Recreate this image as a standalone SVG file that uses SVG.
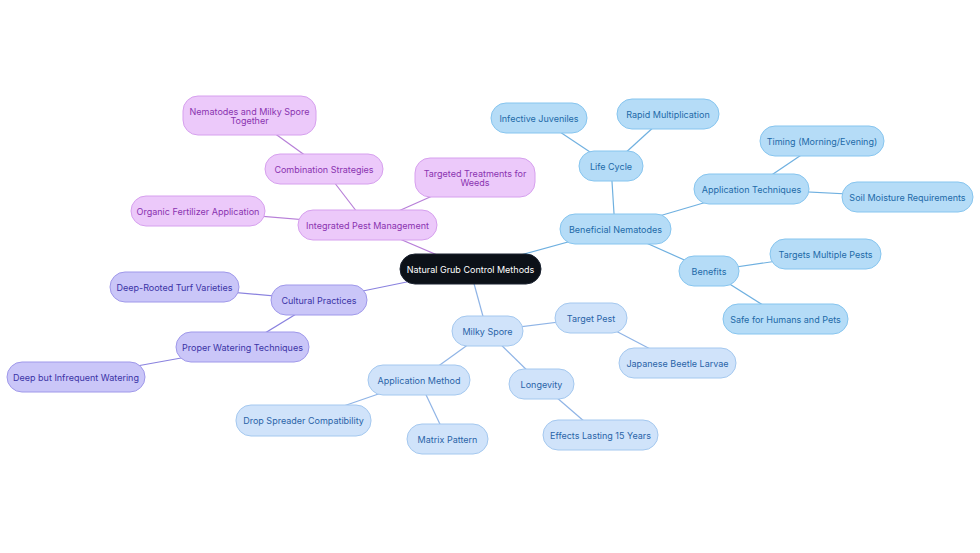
<svg xmlns="http://www.w3.org/2000/svg" width="980" height="553" viewBox="0 0 980 553">
<style>
text{font-family:Inter,"Liberation Sans",sans-serif;font-size:9px;text-anchor:middle;dominant-baseline:central}
.b rect{fill:#b5dcf7;stroke:#86c5ef;stroke-width:1}.b text{fill:#1d6aa8}
.m rect{fill:#d0e3fa;stroke:#a4c8ef;stroke-width:1}.m text{fill:#2a63a8}
.p rect{fill:#ecc9fa;stroke:#d6a0ee;stroke-width:1}.p text{fill:#8a33b0}
.l rect{fill:#cac6f8;stroke:#9f98ea;stroke-width:1}.l text{fill:#3a33a6}
#connectors line{stroke-width:1.2}
.cb{stroke:#6fb0e0}.cm{stroke:#8fb4e6}.cp{stroke:#b77fd8}.cl{stroke:#8a82df}
</style>
<rect width="980" height="553" fill="#fff"/>
<g id="connectors">
<line class="cb" x1="470" y1="269" x2="615" y2="229"/>
<line class="cb" x1="615" y1="229" x2="611" y2="166"/>
<line class="cb" x1="611" y1="166" x2="539" y2="118"/>
<line class="cb" x1="611" y1="166" x2="668" y2="114"/>
<line class="cb" x1="615" y1="229" x2="751" y2="189"/>
<line class="cb" x1="751" y1="189" x2="822" y2="141"/>
<line class="cb" x1="751" y1="189" x2="907" y2="197"/>
<line class="cb" x1="615" y1="229" x2="709" y2="271"/>
<line class="cb" x1="709" y1="271" x2="825" y2="254"/>
<line class="cb" x1="709" y1="271" x2="785" y2="319"/>
<line class="cm" x1="470" y1="269" x2="487" y2="331"/>
<line class="cm" x1="487" y1="331" x2="591" y2="318"/>
<line class="cm" x1="591" y1="318" x2="677" y2="363"/>
<line class="cm" x1="487" y1="331" x2="541" y2="384"/>
<line class="cm" x1="541" y1="384" x2="600" y2="435"/>
<line class="cm" x1="487" y1="331" x2="419" y2="380"/>
<line class="cm" x1="419" y1="380" x2="303" y2="420"/>
<line class="cm" x1="419" y1="380" x2="447" y2="439"/>
<line class="cp" x1="470" y1="269" x2="367" y2="225"/>
<line class="cp" x1="367" y1="225" x2="324" y2="169"/>
<line class="cp" x1="324" y1="169" x2="249" y2="115"/>
<line class="cp" x1="367" y1="225" x2="475" y2="177"/>
<line class="cp" x1="367" y1="225" x2="198" y2="211"/>
<line class="cl" x1="470" y1="269" x2="319" y2="300"/>
<line class="cl" x1="319" y1="300" x2="174" y2="287"/>
<line class="cl" x1="319" y1="300" x2="242" y2="347"/>
<line class="cl" x1="242" y1="347" x2="76" y2="377"/>
</g>
<g id="root"><rect x="400" y="254" width="141" height="30" rx="15" fill="#0c1118" stroke="#1a2230"/><text x="470.5" y="269" fill="#fff">Natural Grub Control Methods</text></g>
<g id="n-nematodes" class="b"><rect x="560" y="214" width="111" height="30" rx="15"/><text x="615.5" y="229">Beneficial Nematodes</text></g>
<g id="n-lifecycle" class="b"><rect x="579" y="151" width="64" height="30" rx="15"/><text x="611" y="166">Life Cycle</text></g>
<g id="n-juveniles" class="b"><rect x="491" y="103" width="96" height="30" rx="15"/><text x="539" y="118">Infective Juveniles</text></g>
<g id="n-rapid" class="b"><rect x="617" y="99" width="102" height="30" rx="15"/><text x="668" y="114">Rapid Multiplication</text></g>
<g id="n-apptech" class="b"><rect x="694" y="174" width="115" height="30" rx="15"/><text x="751.5" y="189">Application Techniques</text></g>
<g id="n-timing" class="b"><rect x="760" y="126" width="124" height="30" rx="15"/><text x="822" y="141">Timing (Morning/Evening)</text></g>
<g id="n-soil" class="b"><rect x="842" y="182" width="131" height="30" rx="15"/><text x="907.5" y="197">Soil Moisture Requirements</text></g>
<g id="n-benefits" class="b"><rect x="679" y="256" width="60" height="30" rx="15"/><text x="709" y="271">Benefits</text></g>
<g id="n-targets" class="b"><rect x="770" y="239" width="111" height="30" rx="15"/><text x="825.5" y="254">Targets Multiple Pests</text></g>
<g id="n-safe" class="b"><rect x="723" y="304" width="125" height="30" rx="15"/><text x="785.5" y="319">Safe for Humans and Pets</text></g>
<g id="n-milky" class="m"><rect x="452" y="316" width="71" height="30" rx="15"/><text x="487.5" y="331">Milky Spore</text></g>
<g id="n-targetpest" class="m"><rect x="555" y="303" width="72" height="30" rx="15"/><text x="591" y="318">Target Pest</text></g>
<g id="n-beetle" class="m"><rect x="619" y="348" width="117" height="30" rx="15"/><text x="677.5" y="363">Japanese Beetle Larvae</text></g>
<g id="n-longevity" class="m"><rect x="509" y="369" width="65" height="30" rx="15"/><text x="541.5" y="384">Longevity</text></g>
<g id="n-effects" class="m"><rect x="543" y="420" width="115" height="30" rx="15"/><text x="600.5" y="435">Effects Lasting 15 Years</text></g>
<g id="n-appmethod" class="m"><rect x="368" y="365" width="102" height="30" rx="15"/><text x="419" y="380">Application Method</text></g>
<g id="n-drop" class="m"><rect x="236" y="405" width="135" height="31" rx="15"/><text x="303.5" y="420.5">Drop Spreader Compatibility</text></g>
<g id="n-matrix" class="m"><rect x="407" y="424" width="81" height="30" rx="15"/><text x="447.5" y="439">Matrix Pattern</text></g>
<g id="n-ipm" class="p"><rect x="298" y="210" width="139" height="30" rx="15"/><text x="367.5" y="225">Integrated Pest Management</text></g>
<g id="n-combo" class="p"><rect x="265" y="154" width="118" height="30" rx="15"/><text x="324" y="169">Combination Strategies</text></g>
<g id="n-together" class="p"><rect x="183" y="96" width="133" height="39" rx="15"/><text x="249.5" y="111">Nematodes and Milky Spore</text><text x="249.5" y="120.5">Together</text></g>
<g id="n-weeds" class="p"><rect x="415" y="158" width="120" height="39" rx="15"/><text x="475" y="173">Targeted Treatments for</text><text x="475" y="182.5">Weeds</text></g>
<g id="n-organic" class="p"><rect x="131" y="196" width="134" height="30" rx="15"/><text x="198" y="211">Organic Fertilizer Application</text></g>
<g id="n-cultural" class="l"><rect x="271" y="285" width="96" height="30" rx="15"/><text x="319" y="300">Cultural Practices</text></g>
<g id="n-deeproot" class="l"><rect x="110" y="272" width="129" height="30" rx="15"/><text x="174.5" y="287">Deep-Rooted Turf Varieties</text></g>
<g id="n-watering" class="l"><rect x="176" y="332" width="133" height="30" rx="15"/><text x="242.5" y="347">Proper Watering Techniques</text></g>
<g id="n-deepwater" class="l"><rect x="7" y="362" width="138" height="30" rx="15"/><text x="76" y="377">Deep but Infrequent Watering</text></g>
</svg>
